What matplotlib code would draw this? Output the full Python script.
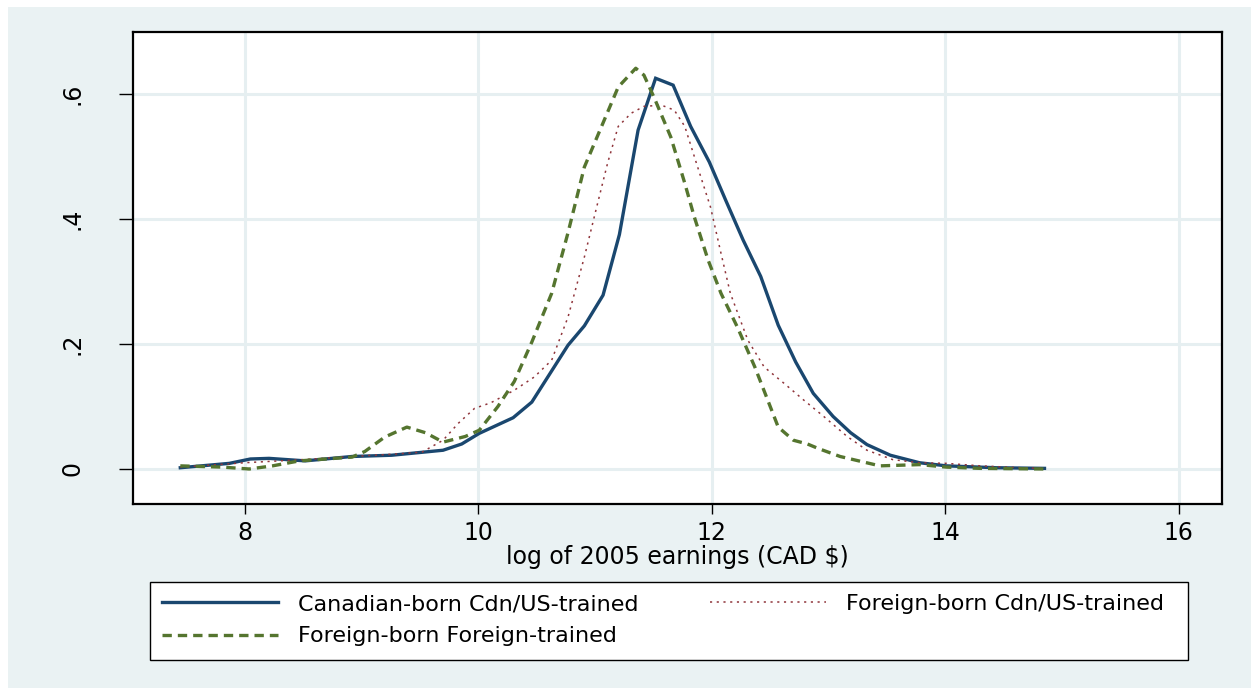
import matplotlib
matplotlib.use("Agg")
import matplotlib.pyplot as plt
from matplotlib.patches import Rectangle

# kernel density estimates
cdn_x = [7.45, 7.87, 8.05, 8.21, 8.52, 8.92, 9.26, 9.70, 9.86, 10.01, 10.30, 10.46,
         10.77, 10.91, 11.07, 11.21, 11.37, 11.52, 11.67, 11.82, 11.98, 12.12, 12.27,
         12.42, 12.57, 12.72, 12.87, 13.04, 13.19, 13.33, 13.53, 13.78, 14.01, 14.44, 14.85]
cdn_y = [0.002, 0.009, 0.016, 0.017, 0.013, 0.020, 0.022, 0.030, 0.040, 0.057, 0.082, 0.107,
         0.198, 0.229, 0.278, 0.375, 0.542, 0.625, 0.614, 0.548, 0.491, 0.430, 0.366,
         0.308, 0.230, 0.171, 0.121, 0.084, 0.058, 0.039, 0.022, 0.010, 0.005, 0.002, 0.001]

fbc_x = [7.45, 8.00, 8.50, 8.92, 9.30, 9.52, 9.70, 9.83, 9.97, 10.11, 10.31, 10.48, 10.63,
         10.77, 10.91, 11.03, 11.11, 11.20, 11.31, 11.42, 11.57, 11.68, 11.77, 11.88,
         11.99, 12.08, 12.16, 12.31, 12.45, 12.62, 12.79, 12.96, 13.16, 13.33, 13.55,
         13.78, 14.01, 14.30, 14.64, 14.85]
fbc_y = [0.003, 0.010, 0.015, 0.020, 0.024, 0.027, 0.046, 0.073, 0.097, 0.106, 0.126, 0.147, 0.174,
         0.243, 0.339, 0.430, 0.490, 0.548, 0.569, 0.580, 0.582, 0.574, 0.548, 0.483,
         0.419, 0.345, 0.281, 0.206, 0.163, 0.137, 0.110, 0.084, 0.052, 0.030, 0.015,
         0.010, 0.009, 0.005, 0.002, 0.001]

fbf_x = [7.45, 7.81, 8.04, 8.24, 8.47, 8.92, 9.03, 9.20, 9.39, 9.55, 9.70, 9.89, 10.01,
         10.17, 10.31, 10.46, 10.63, 10.77, 10.91, 11.08, 11.20, 11.35, 11.42, 11.51,
         11.65, 11.77, 11.85, 11.97, 12.08, 12.22, 12.37, 12.47, 12.57, 12.70, 12.82,
         12.91, 13.10, 13.44, 13.78, 14.01, 14.30, 14.85]
fbf_y = [0.005, 0.003, 0.000, 0.005, 0.013, 0.019, 0.028, 0.051, 0.067, 0.058, 0.043, 0.052, 0.062,
         0.100, 0.140, 0.203, 0.281, 0.378, 0.483, 0.558, 0.611, 0.641, 0.630, 0.593,
         0.531, 0.457, 0.404, 0.334, 0.281, 0.227, 0.163, 0.115, 0.067, 0.046, 0.040,
         0.033, 0.020, 0.005, 0.007, 0.003, 0.001, 0.000]

labels = ["Canadian-born Cdn/US-trained", "Foreign-born Cdn/US-trained",
          "Foreign-born Foreign-trained"]
xticks = [8, 10, 12, 14, 16]
yticks = [0, 0.2, 0.4, 0.6]
yticklabels = ["0", ".2", ".4", ".6"]

plt.rcParams['font.family'] = ['DejaVu Sans']

W, H = 1251, 688
fig = plt.figure(figsize=(W / 100, H / 100), dpi=100)
fig.patch.set_facecolor("white")
fig.add_artist(Rectangle((8 / W, 0), 1 - 8 / W, 1 - 7 / H, transform=fig.transFigure,
                         facecolor="#eaf2f3", edgecolor="none", zorder=-10))

ax = fig.add_axes([133 / W, 1 - 504 / H, (1222 - 133) / W, (504 - 32) / H])
ax.set_facecolor("white")

l1, = ax.plot(cdn_x, cdn_y, color="#1a476f", lw=2.4, solid_joinstyle="miter", zorder=3)
l2, = ax.plot(fbc_x, fbc_y, color="#90353b", lw=1.1, linestyle=(0, (1.4, 3.0)), zorder=3)
l3, = ax.plot(fbf_x, fbf_y, color="#55752f", lw=2.4, linestyle=(0, (2.8, 1.8)), zorder=3)

ax.set_xlim(7.045, 16.37)
ax.set_ylim(-0.056, 0.699)
ax.set_xticks(xticks)
ax.set_yticks(yticks)
ax.set_yticklabels(yticklabels)
ax.grid(True, color="#e6eff1", lw=2.2)
ax.set_axisbelow(True)

for s in ax.spines.values():
    s.set_linewidth(1.6)
    s.set_color("black")

ax.tick_params(axis="x", length=7, width=1, pad=5, labelsize=17)
ax.tick_params(axis="y", length=10, width=1, pad=25, labelsize=17, labelrotation=90)
for t in ax.get_yticklabels():
    t.set_va("center")

ax.set_xlabel("log of 2005 earnings (CAD $)", fontsize=17, labelpad=0)

# legend box drawn separately, stata leaves more room on the right
fig.add_artist(Rectangle((150 / W, 1 - 660 / H), (1188 - 150) / W, (660 - 582) / H,
                         transform=fig.transFigure, facecolor="white",
                         edgecolor="black", lw=1.0, zorder=4))
fig.legend([l1, l3, l2], [labels[0], labels[2], labels[1]], ncol=2,
           bbox_to_anchor=(150 / W, 1 - 582 / H, (1176 - 150) / W, 0),
           loc="upper left", mode="expand", borderaxespad=0, fontsize=16,
           handlelength=5.2, handletextpad=0.9, labelspacing=0.55,
           borderpad=0.55, frameon=False, columnspacing=2.0)

fig.savefig("out.png", dpi=100)
